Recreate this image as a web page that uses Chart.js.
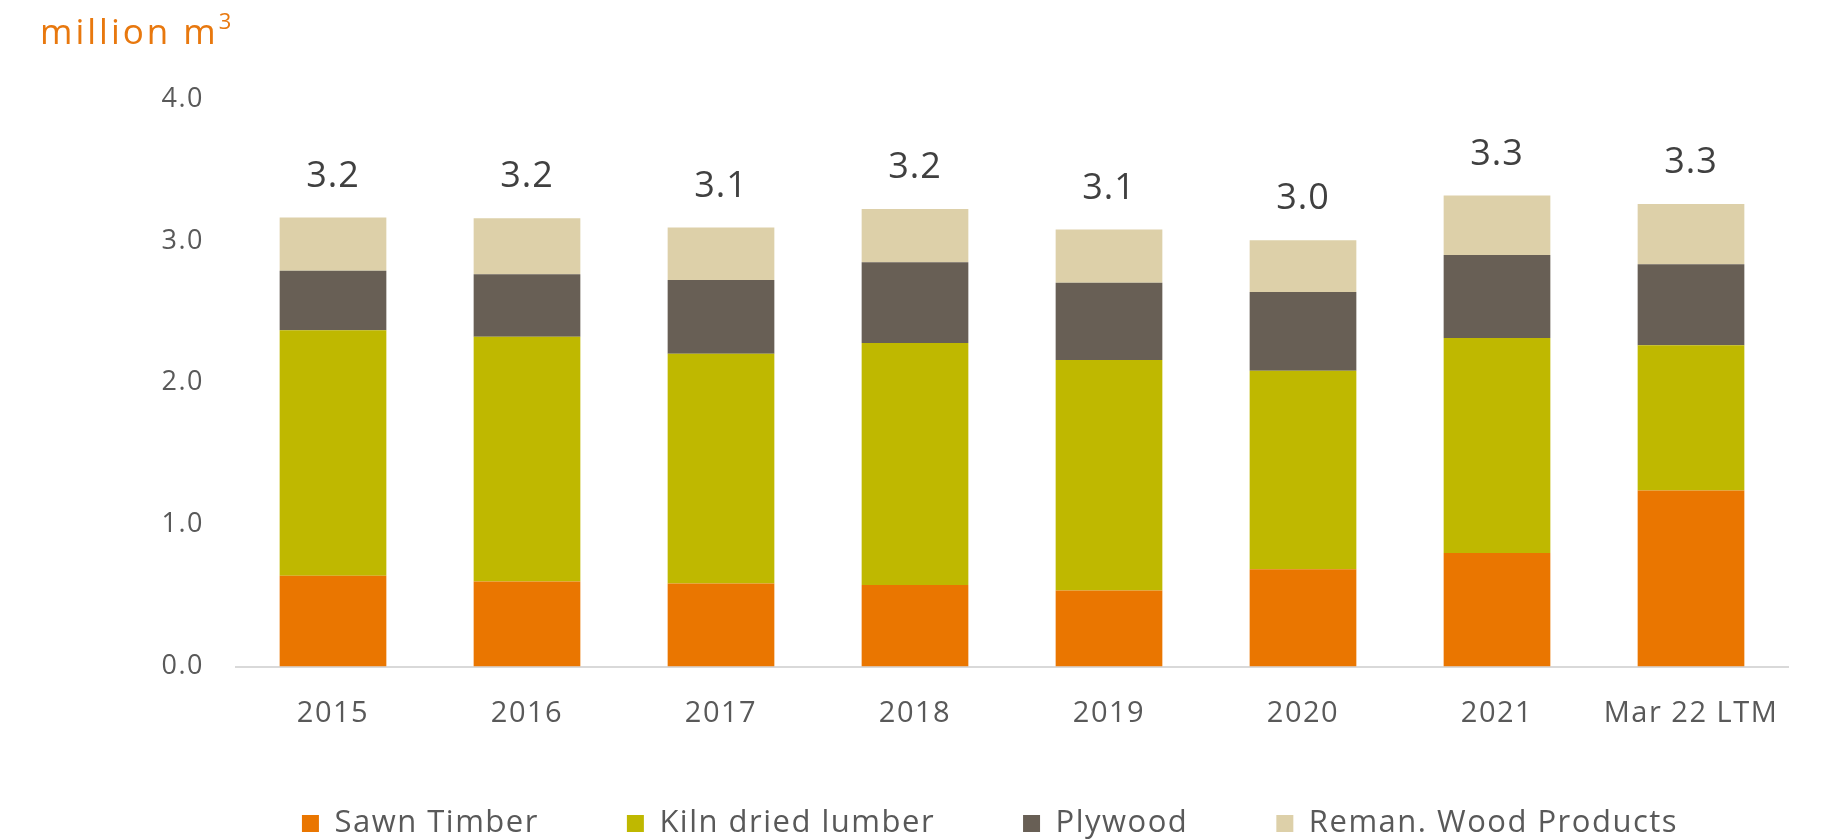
<!DOCTYPE html>
<html>
<head>
<meta charset="utf-8">
<script src="https://cdn.jsdelivr.net/npm/chart.js@4.4.1/dist/chart.umd.min.js"></script>
<style>
  html, body { margin: 0; padding: 0; background: #fff; overflow: hidden; }
  #wrap { width: 1821px; height: 849px; position: relative; }
</style>
</head>
<body>
<div id="wrap"><canvas id="volumes"></canvas></div>
<script>
// Production volumes by product, million m3
var categories = ['2015', '2016', '2017', '2018', '2019', '2020', '2021', 'Mar 22 LTM'];
var sawnTimber = [0.64, 0.60, 0.585, 0.575, 0.535, 0.685, 0.80, 1.24];
var kilnDried  = [1.73, 1.725, 1.62, 1.705, 1.625, 1.40, 1.515, 1.025];
var plywood    = [0.42, 0.44, 0.52, 0.57, 0.545, 0.555, 0.585, 0.57];
var reman      = [0.375, 0.395, 0.37, 0.375, 0.375, 0.365, 0.42, 0.425];
var yTicks     = [0, 1, 2, 3, 4];

var FONT = "'Open Sans', 'Noto Sans', sans-serif";
var GREY = '#595959';

// slightly wider text spacing for everything drawn on the canvas
// (set again before layout and drawing, a resize resets the context)
var textSpacing = {
    id: 'textSpacing',
    beforeUpdate: function (chart) { chart.ctx.letterSpacing = '1.5px'; },
    beforeDraw: function (chart) { chart.ctx.letterSpacing = '1.5px'; }
};

// axis labels reach outside their (narrowed) boxes, so let them draw past the edges
var labelRoom = {
    id: 'labelRoom',
    afterLayout: function (chart) {
        chart.scales.x.bottom = chart.height;
        chart.scales.y.left = 0;
    }
};

// unit caption in the top-left corner
var unitTitle = {
    id: 'unitTitle',
    afterDraw: function (chart) {
        var ctx = chart.ctx;
        ctx.save();
        ctx.fillStyle = '#E8780E';
        ctx.textBaseline = 'alphabetic';
        ctx.textAlign = 'left';
        ctx.letterSpacing = '3px';
        ctx.font = '35px ' + FONT;
        var main = 'million m';
        ctx.fillText(main, 40, 44);
        var w = ctx.measureText(main).width;
        ctx.font = '22px ' + FONT;
        ctx.fillText('3', 40 + w, 29);
        ctx.restore();
    }
};

// stack totals above each bar
var totalLabels = {
    id: 'totalLabels',
    afterDatasetsDraw: function (chart) {
        var ctx = chart.ctx;
        var yScale = chart.scales.y;
        var topMeta = chart.getDatasetMeta(chart.data.datasets.length - 1);
        ctx.save();
        ctx.font = '36px ' + FONT;
        ctx.letterSpacing = '1px';
        ctx.fillStyle = '#404040';
        ctx.textAlign = 'center';
        ctx.textBaseline = 'middle';
        categories.forEach(function (c, i) {
            var total = 0;
            chart.data.datasets.forEach(function (ds) { total += ds.data[i]; });
            var x = topMeta.data[i].x;
            var y = yScale.getPixelForValue(total) - 41;
            ctx.fillText(total.toFixed(1), x, y);
        });
        ctx.restore();
    }
};

var ctx = document.getElementById('volumes').getContext('2d');

var volumesChart = new Chart(ctx, {
    type: 'bar',
    data: {
        labels: categories,
        datasets: [
            { label: 'Sawn Timber', data: sawnTimber, backgroundColor: '#EA7600' },
            { label: 'Kiln dried lumber', data: kilnDried, backgroundColor: '#BFB800' },
            { label: 'Plywood', data: plywood, backgroundColor: '#685F55' },
            { label: 'Reman. Wood Products', data: reman, backgroundColor: '#DDD0A9' }
        ]
    },
    options: {
        responsive: true,
        maintainAspectRatio: false,
        animation: false,
        datasets: {
            bar: { barPercentage: 0.55, categoryPercentage: 1.0, borderWidth: 0 }
        },
        layout: {
            padding: { left: 192, right: 33, top: 99, bottom: 0 }
        },
        scales: {
            x: {
                stacked: true,
                grid: { display: false },
                border: { display: true, color: '#D9D9D9', width: 2 },
                ticks: { color: GREY, font: { family: FONT, size: 29 }, padding: 22 },
                afterFit: function (scale) { scale.height = 53.5; }
            },
            y: {
                stacked: true,
                min: 0,
                max: 4,
                grid: { display: false },
                border: { display: false },
                afterBuildTicks: function (scale) {
                    scale.ticks = yTicks.map(function (v) { return { value: v }; });
                },
                ticks: {
                    color: GREY,
                    padding: 24,
                    font: { family: FONT, size: 27 },
                    callback: function (v) { return Number(v).toFixed(1); }
                },
                afterFit: function (scale) { scale.width = 44; }
            }
        },
        plugins: {
            legend: {
                position: 'bottom',
                labels: {
                    boxWidth: 17,
                    boxHeight: 17,
                    padding: 88,
                    color: GREY,
                    font: { family: FONT, size: 31 }
                }
            },
            tooltip: { enabled: false }
        }
    },
    plugins: [textSpacing, labelRoom, unitTitle, totalLabels]
});
</script>
</body>
</html>
